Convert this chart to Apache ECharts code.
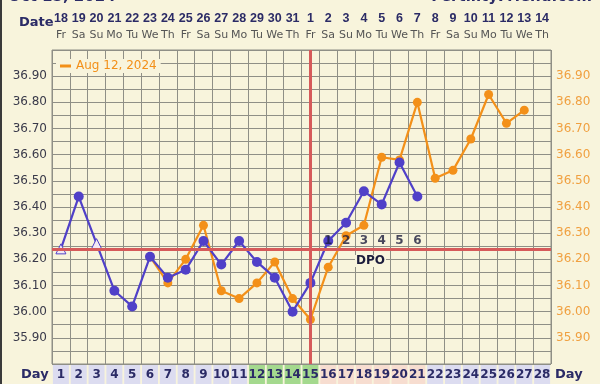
<!DOCTYPE html>
<html>
<head>
<meta charset="utf-8">
<script src="https://cdn.jsdelivr.net/npm/echarts@6/dist/echarts.min.js"></script>
<style>
html,body{margin:0;padding:0;background:#f8f4dc;}
#chart{width:600px;height:384px;}
</style>
</head>
<body>
<div id="chart"></div>
<script>
// ---- data ----
const dates = ['18','19','20','21','22','23','24','25','26','27','28','29','30','31','1','2','3','4','5','6','7','8','9','10','11','12','13','14'];
const weekdays = ['Fr','Sa','Su','Mo','Tu','We','Th','Fr','Sa','Su','Mo','Tu','We','Th','Fr','Sa','Su','Mo','Tu','We','Th','Fr','Sa','Su','Mo','Tu','We','Th'];
const days = ['1','2','3','4','5','6','7','8','9','10','11','12','13','14','15','16','17','18','19','20','21','22','23','24','25','26','27','28'];
const dayTypes = ['a','a','a','a','a','a','a','a','a','a','a','g','g','g','g','p','p','p','p','p','p','a','a','a','a','a','a','a'];
const currentTemps = [36.24,36.44,36.26,36.08,36.02,36.21,36.13,36.16,36.27,36.18,36.27,36.19,36.13,36.00,36.11,36.27,36.34,36.46,36.41,36.57,36.44,null,null,null,null,null,null,null];
const discarded = [0,2]; // indices of open (discarded) temps
const compareTemps = [null,null,null,null,null,36.21,36.11,36.20,36.33,36.08,36.05,36.11,36.19,36.05,35.97,36.17,36.29,36.33,36.59,36.58,36.80,36.51,36.54,36.66,36.83,36.72,36.77,null];
const compareName = 'Aug 12, 2024';
const coverline = 36.24;
const ovulationDay = '15';
const dpoDays = ['16','17','18','19','20','21'];
const dpoLabels = ['1','2','3','4','5','6'];
const dpoLevel = 36.27;

const FONT = '"DejaVu Sans", Verdana, sans-serif';
const NFONT = '"Liberation Sans", Arial, sans-serif';
const NAVY = '#2b2b66';
const BLUE = '#5040c8';
const ORANGE = '#f39019';

const fmtY = v => {
  const r = Math.round(v * 100);
  if (r % 10 !== 0 || r >= 3700 || r <= 3580) return '';
  return (r / 100).toFixed(2);
};

const blueData = currentTemps.map((v, i) => {
  if (v === null) return null;
  if (discarded.includes(i)) {
    return {value: v, symbol: 'triangle', symbolSize: 10,
      itemStyle: {color: '#f3e9f3', borderColor: BLUE, borderWidth: 1}};
  }
  return v;
});

const cell = bg => ({backgroundColor: bg, width: 16, height: 19, lineHeight: 19, align: 'center', fontSize: 12, fontWeight: 'bold', color: NAVY, fontFamily: FONT});

const chart = echarts.init(document.getElementById('chart'), null, {renderer: 'canvas'});
chart.setOption({
  backgroundColor: '#f8f4dc',
  animation: false,
  textStyle: {fontFamily: FONT},
  grid: {left: 52, right: 49, top: 50, bottom: 19, show: true, backgroundColor: '#f8f4dc', borderColor: '#8f8f86', borderWidth: 1},
  legend: {
    data: [compareName], left: 56, top: 59, icon: 'rect', itemWidth: 11, itemHeight: 3, itemGap: 4,
    backgroundColor: '#f8f4dc', padding: [1, 4],
    textStyle: {color: ORANGE, fontSize: 12, fontFamily: FONT}
  },
  xAxis: [
    {
      type: 'category', data: dates, position: 'top', boundaryGap: true,
      axisLine: {show: false}, axisTick: {show: false},
      splitLine: {show: true, lineStyle: {color: '#8f8f86', width: 1}},
      axisLabel: {
        interval: 0, margin: 6,
        formatter: (v, i) => '{d|' + v + '}\n{w|' + weekdays[i] + '}',
        rich: {
          d: {fontSize: 12.5, fontWeight: 'bold', color: NAVY, fontFamily: NFONT, lineHeight: 17},
          w: {fontSize: 11, color: '#555555', fontFamily: FONT, lineHeight: 17}
        }
      }
    },
    {
      type: 'category', data: days, position: 'bottom', boundaryGap: true,
      axisLine: {show: false}, axisTick: {show: false}, splitLine: {show: false},
      axisLabel: {
        interval: 0, margin: 1,
        formatter: (v, i) => '{' + dayTypes[i] + '|' + v + '}',
        rich: {a: cell('#dcdcf0'), g: cell('#a4d98e'), p: cell('#f7ddd0')}
      }
    }
  ],
  yAxis: [
    {
      type: 'value', min: 35.8, max: 37.0, interval: 0.05, position: 'left',
      axisLine: {show: false}, axisTick: {show: false},
      splitLine: {show: true, lineStyle: {color: '#8f8f86', width: 1}},
      axisLabel: {formatter: fmtY, color: '#3a3a4a', fontSize: 12, fontFamily: FONT, margin: 5, showMinLabel: true, showMaxLabel: true}
    },
    {
      type: 'value', min: 35.8, max: 37.0, interval: 0.05, position: 'right',
      axisLine: {show: false}, axisTick: {show: false}, splitLine: {show: false},
      axisLabel: {formatter: fmtY, color: '#f0a040', fontSize: 12, fontFamily: FONT, margin: 5}
    }
  ],
  series: [
    {
      name: compareName, type: 'line', xAxisIndex: 1, yAxisIndex: 0, data: compareTemps, z: 3,
      symbol: 'circle', symbolSize: 9, connectNulls: false,
      itemStyle: {color: ORANGE}, lineStyle: {color: ORANGE, width: 2.2}
    },
    {
      name: 'Current', type: 'line', xAxisIndex: 1, yAxisIndex: 0, data: blueData, z: 4,
      symbol: 'circle', symbolSize: 10,
      itemStyle: {color: BLUE}, lineStyle: {color: BLUE, width: 2.2},
      markLine: {
        silent: true, symbol: 'none', label: {show: false},
        lineStyle: {color: '#d65a5a', width: 3, type: 'solid'},
        data: [{yAxis: coverline}, {xAxis: ovulationDay}]
      }
    },
    {
      name: 'DPO', type: 'scatter', xAxisIndex: 1, yAxisIndex: 0, z: 6, symbolSize: 0,
      data: dpoDays.map((d, i) => ({value: [d, dpoLevel], label: {formatter: dpoLabels[i]}})),
      label: {show: true, position: 'inside', fontSize: 12, fontWeight: 'bold', color: '#1c1c3c', fontFamily: FONT}
    }
  ],
  graphic: [
    {type: 'rect', left: 0, top: 0, shape: {width: 2, height: 384}, style: {fill: '#3a3a3a'}},
    {type: 'text', left: 8, top: -10, style: {text: 'Oct 15, 2024', font: 'bold 15px ' + FONT, fill: NAVY}},
    {type: 'text', right: 8, top: -10, style: {text: 'FertilityFriend.com', font: 'bold 15px ' + FONT, fill: NAVY}},
    {type: 'text', left: 19, top: 16, style: {text: 'Date', font: 'bold 13px ' + FONT, fill: NAVY}},
    {type: 'text', left: 21, top: 368, style: {text: 'Day', font: 'bold 13px ' + FONT, fill: NAVY}},
    {type: 'text', left: 555, top: 368, style: {text: 'Day', font: 'bold 13px ' + FONT, fill: NAVY}},
    {type: 'text', left: 355, top: 255, z: 10, style: {text: 'DPO', font: 'bold 12px ' + FONT, fill: '#1c1c3c', backgroundColor: '#f8f4dc', padding: [0, 1]}}
  ]
});
</script>
</body>
</html>
